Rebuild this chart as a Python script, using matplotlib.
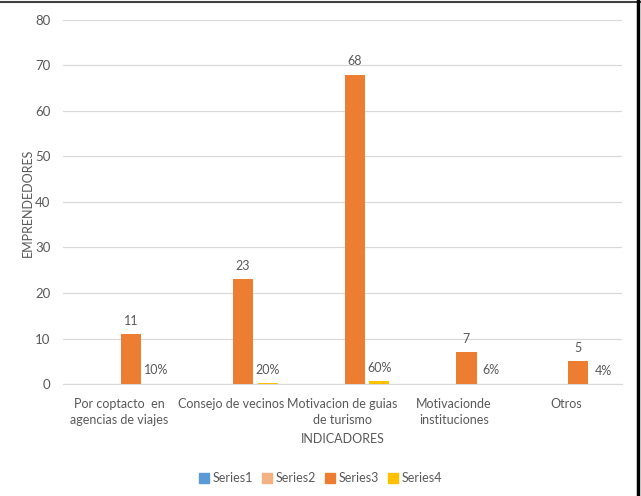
import matplotlib
matplotlib.use("Agg")
import matplotlib.pyplot as plt
import numpy as np
from matplotlib.patches import Patch
from matplotlib.lines import Line2D

categories = ["Por coptacto  en\nagencias de viajes", "Consejo de vecinos",
              "Motivacion de guias\nde turismo", "Motivacionde\ninstituciones", "Otros"]
series1 = [0, 0, 0, 0, 0]
series2 = [0, 0, 0, 0, 0]
series3 = [11, 23, 68, 7, 5]
series4 = [0.10, 0.20, 0.60, 0.06, 0.04]
series_names = ["Series1", "Series2", "Series3", "Series4"]
colors = ["#5B9BD5", "#F4B183", "#ED7D31", "#FFC000"]
y_ticks = [0, 10, 20, 30, 40, 50, 60, 70, 80]

plt.rcParams['font.family'] = ['Lato', 'DejaVu Sans']
txt = "#595959"

fig = plt.figure(figsize=(6.41, 4.96), dpi=100)
ax = fig.add_axes([0.0983, 0.2258, 0.8717, 0.7339])

x = np.arange(len(categories))
slot = 0.221
width = 0.18
all_series = [series1, series2, series3, series4]
for i, (vals, c) in enumerate(zip(all_series, colors)):
    off = (i - 1.5) * slot
    ax.bar(x + off, vals, width=width, color=c, zorder=3)

for xi, v in zip(x, series3):
    ax.text(xi + 0.5 * slot, v + 1.6, f"{v}", ha="center", va="bottom", fontsize=9, color=txt)
for xi, v in zip(x, series4):
    ax.text(xi + 1.5 * slot, v + 1.6, f"{v:.0%}", ha="center", va="bottom", fontsize=9, color=txt)

ax.set_xlim(-0.5, len(categories) - 0.5)
ax.set_ylim(0, 80)
ax.set_yticks(y_ticks)
ax.yaxis.grid(True, color="#D9D9D9", linewidth=0.9, zorder=0)
ax.set_axisbelow(True)
for s in ["top", "right", "left"]:
    ax.spines[s].set_visible(False)
ax.spines["bottom"].set_color("#D9D9D9")
ax.tick_params(axis="both", length=0, colors=txt, labelsize=9.5)
ax.tick_params(axis="x", pad=10)
ax.tick_params(axis="y", pad=9)
ax.set_xticks(x)
ax.set_xticklabels(categories, color=txt, fontsize=9, linespacing=1.45)
ax.set_xlabel("INDICADORES", color=txt, fontsize=9, labelpad=5)
ax.set_ylabel("EMPRENDEDORES", color=txt, fontsize=9)
ax.yaxis.set_label_coords(-0.052, 0.497)

handles = [Patch(facecolor=c, edgecolor=c) for c in colors]
fig.legend(handles, series_names, loc="center", bbox_to_anchor=(0.5, 0.036), ncol=4,
           frameon=False, fontsize=9, labelcolor=txt, handlelength=0.8, handleheight=0.8,
           handletextpad=0.3, columnspacing=0.7)

# outer frame lines
fig.add_artist(Line2D([0, 1], [0.995, 0.995], transform=fig.transFigure, color="#404040", linewidth=1.5))
fig.add_artist(Line2D([0.9955, 0.9955], [0, 1], transform=fig.transFigure, color="#000000", linewidth=2.5))

fig.savefig("out.png", dpi=100)
